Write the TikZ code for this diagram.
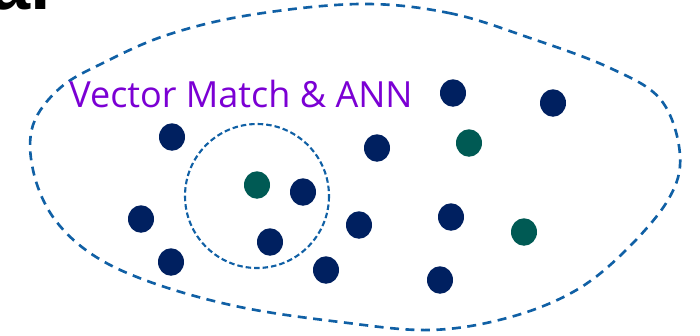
\documentclass[tikz,border=0pt]{standalone}
\usepackage{fontspec}
\setmainfont{Open Sans}
\newfontfamily\headfont{Liberation Sans}
\usetikzlibrary{shapes.geometric}

\definecolor{dotnavy}{RGB}{0,32,96}
\definecolor{dotteal}{RGB}{0,90,84}
\definecolor{lineblue}{RGB}{16,96,165}
\definecolor{labelpurple}{RGB}{123,0,212}

\begin{document}
\begin{tikzpicture}[x=0.2mm, y=-0.2mm,
    point/.style={ellipse, draw=none, fill=dotnavy, inner sep=0pt,
        minimum width=5.2mm, minimum height=5.5mm},
    query/.style={point, fill=dotteal},
    region/.style={draw=lineblue, line width=1.5pt,
        dash pattern=on 1.8mm off 1.3mm},
    neighbourhood/.style={draw=lineblue, line width=1.2pt,
        dash pattern=on 1.1mm off 0.6mm}]

    % canvas
    \useasboundingbox (0,0) rectangle (700,335);
    \clip (0,0) rectangle (700,335);

    % heading, cut off at the top edge
    \node[anchor=base east, inner sep=0pt, font=\headfont\bfseries\fontsize{42}{42}\selectfont]
        (heading) at (51,9) {al};

    % vector space
    \draw[region] plot[smooth cycle, tension=0.6] coordinates {
        (360,4) (449,13) (530,38) (610,68) (661,100) (680,155)
        (668,200) (623,253) (573,292) (507,318) (430,330) (340,322)
        (240,307) (153,283) (93,255) (53,217) (33,170) (33,125)
        (60,88) (103,63) (167,35) (250,15)};

    % nearest neighbours of the query
    \coordinate (centre) at (257,196);
    \draw[neighbourhood] (centre) circle[radius=72];

    \node[anchor=base west, inner sep=0pt, text=labelpurple,
        font=\fontsize{20.5}{20.5}\selectfont]
        (label) at (69,107) {Vector Match \& ANN};

    % stored vectors
    \node[point] (v1) at (453,93) {};
    \node[point] (v2) at (553,103) {};
    \node[point] (v3) at (172,137) {};
    \node[point] (v4) at (377,148) {};
    \node[point] (v5) at (303,192) {};
    \node[point] (v6) at (141,219) {};
    \node[point] (v7) at (359,225) {};
    \node[point] (v8) at (451,217) {};
    \node[point] (v9) at (270,242) {};
    \node[point] (v10) at (171,262) {};
    \node[point] (v11) at (326,270) {};
    \node[point] (v12) at (440,280) {};

    % query vectors
    \node[query] (q1) at (469,143) {};
    \node[query] (q2) at (257,185) {};
    \node[query] (q3) at (524,232) {};

\end{tikzpicture}
\end{document}
